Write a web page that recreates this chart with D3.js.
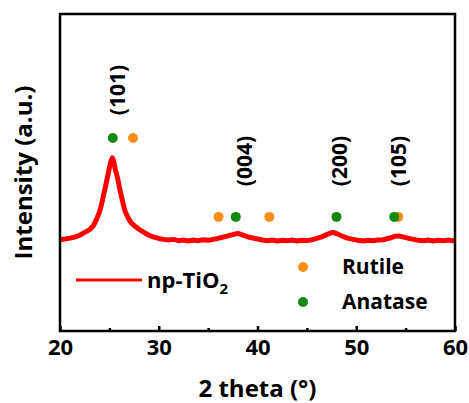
<!DOCTYPE html>
<html>
<head>
<meta charset="utf-8">
<script src="https://cdn.jsdelivr.net/npm/d3@7"></script>
<style>
  body { margin: 0; background: #fff; }
  text { font-family: "Open Sans", Lato, sans-serif; font-weight: bold; fill: #000; }
</style>
</head>
<body>
<svg id="chart"></svg>
<script>
// XRD pattern of np-TiO2
const twoTheta = [20.0, 20.5, 21.0, 21.5, 22.0, 22.5, 23.0, 23.4, 23.7, 24.0, 24.2, 24.4, 24.6, 24.8, 25.0, 25.15, 25.3, 25.45, 25.6, 25.85,
  26.0, 26.2, 26.4, 26.6, 26.9, 27.2, 27.5, 28.0, 28.5, 29.0, 29.5, 30.0, 30.5, 31.0, 31.5, 32.0, 32.5, 33.0, 33.5, 34.0,
  34.5, 35.0, 35.5, 36.0, 36.5, 37.0, 37.5, 38.0, 38.4, 38.9, 39.4, 39.9, 40.5, 41.0, 41.5, 42.0, 42.5, 43.0, 43.5, 44.0,
  44.5, 45.0, 45.5, 46.0, 46.5, 47.0, 47.4, 47.7, 48.1, 48.6, 49.1, 49.7, 50.2, 50.7, 51.2, 51.7, 52.2, 52.7, 53.1, 53.6,
  54.0, 54.3, 54.7, 55.2, 55.8, 56.3, 56.8, 57.3, 57.8, 58.3, 58.8, 59.3, 59.7, 60.0];
const intensity = [288, 290, 293, 296, 302, 311, 320, 333, 352, 376, 398, 428, 455, 484, 515, 535, 546, 535, 510, 480,
  455, 428, 400, 377, 357, 342, 333, 321, 311, 302, 296, 292, 289, 287, 289, 285, 287, 284, 287, 285,
  288, 286, 289, 292, 296, 300, 304, 308, 304, 298, 294, 291, 287, 285, 287, 284, 286, 285, 287, 284,
  286, 285, 288, 292, 297, 304, 309, 311, 306, 299, 293, 289, 286, 284, 286, 285, 287, 288, 291, 295,
  299, 300, 297, 293, 289, 286, 285, 287, 284, 286, 285, 287, 285, 286];

// reference peak positions
const anatasePos = [25.35, 37.8, 48.0, 53.85];
const anataseLevel = [609, 360, 360, 360];
const rutilePos = [27.4, 36.05, 41.2, 54.25];
const rutileLevel = [609, 360, 360, 360];

// Miller index labels
const hklText = ["(101)", "(004)", "(200)", "(105)"];
const hklPos = [25.85, 38.7, 48.35, 54.25];
const hklLevel = [760, 536, 536, 536];

const xTicks = [20, 30, 40, 50, 60];
const xMinorTicks = [25, 35, 45, 55];

const W = 469, H = 403;
const margin = { top: 14, right: 14, bottom: 72, left: 60 };
const width = W - margin.left - margin.right;
const height = H - margin.top - margin.bottom;

const svgRoot = d3.select("#chart").attr("width", W).attr("height", H);
const svg = svgRoot.append("g").attr("transform", `translate(${margin.left},${margin.top})`);

const x = d3.scaleLinear().domain([20, 60]).range([0, width]);
const y = d3.scaleLinear().domain([0, 1000]).range([height, 0]);

const pattern = twoTheta.map((t, i) => ({ t, v: intensity[i] }));

// pattern line
const line = d3.line().x(d => x(d.t)).y(d => y(d.v));
svg.append("path")
  .datum(pattern)
  .attr("fill", "none")
  .attr("stroke", "#ff0000")
  .attr("stroke-width", 5)
  .attr("stroke-linejoin", "round")
  .attr("d", line);

// phase markers
const orange = "#ff8c14", green = "#118a11";
svg.selectAll(".rutile")
  .data(rutilePos)
  .enter().append("circle")
  .attr("class", "rutile")
  .attr("cx", d => x(d))
  .attr("cy", (d, i) => y(rutileLevel[i]))
  .attr("r", 5)
  .attr("fill", orange);

svg.selectAll(".anatase")
  .data(anatasePos)
  .enter().append("circle")
  .attr("class", "anatase")
  .attr("cx", d => x(d))
  .attr("cy", (d, i) => y(anataseLevel[i]))
  .attr("r", 5)
  .attr("fill", green);

// hkl labels
svg.selectAll(".hkl")
  .data(hklText)
  .enter().append("text")
  .attr("class", "hkl")
  .attr("transform", (d, i) => `translate(${x(hklPos[i])},${y(hklLevel[i])}) rotate(-90)`)
  .attr("text-anchor", "middle")
  .attr("dy", "0.35em")
  .style("font-size", "21px")
  .text(d => d);

// frame
svg.append("rect")
  .attr("width", width)
  .attr("height", height)
  .attr("fill", "none")
  .attr("stroke", "#000")
  .attr("stroke-width", 2.5);

// x axis (ticks pointing inward)
const xAxis = svg.append("g")
  .attr("transform", `translate(0,${height})`)
  .call(d3.axisBottom(x).tickValues(xTicks).tickSize(-5).tickPadding(8));
xAxis.select(".domain").remove();
xAxis.selectAll("line").attr("stroke-width", 2.5);
xAxis.selectAll("text").style("font-size", "22px").style("font-family", "'Open Sans'").style("font-weight", "bold");

const xMinor = svg.append("g")
  .attr("transform", `translate(0,${height})`)
  .call(d3.axisBottom(x).tickValues(xMinorTicks).tickSize(-3).tickFormat(""));
xMinor.select(".domain").remove();
xMinor.selectAll("line").attr("stroke-width", 2.5);

// axis titles
svgRoot.append("text")
  .attr("x", margin.left + width / 2)
  .attr("y", 397)
  .attr("text-anchor", "middle")
  .style("font-size", "24px")
  .text("2 theta (°)");

svgRoot.append("text")
  .attr("transform", `translate(24,${margin.top + height / 2}) rotate(-90)`)
  .attr("text-anchor", "middle")
  .attr("dy", "0.35em")
  .style("font-size", "24px")
  .text("Intensity (a.u.)");

// legend
const legend = svgRoot.append("g");
legend.append("line")
  .attr("x1", 76).attr("x2", 142)
  .attr("y1", 280).attr("y2", 280)
  .attr("stroke", "#ff0000")
  .attr("stroke-width", 3);
const lt = legend.append("text")
  .attr("x", 147).attr("y", 288)
  .style("font-size", "22px");
lt.append("tspan").text("np-TiO");
lt.append("tspan").attr("dy", 6).style("font-size", "15px").text("2");

legend.append("circle").attr("cx", 303).attr("cy", 267).attr("r", 5).attr("fill", orange);
legend.append("text").attr("x", 342).attr("y", 267).attr("dy", "0.35em")
  .style("font-size", "21px").text("Rutile");
legend.append("circle").attr("cx", 303).attr("cy", 302).attr("r", 5).attr("fill", green);
legend.append("text").attr("x", 342).attr("y", 302).attr("dy", "0.35em")
  .style("font-size", "21px").text("Anatase");
</script>
</body>
</html>
